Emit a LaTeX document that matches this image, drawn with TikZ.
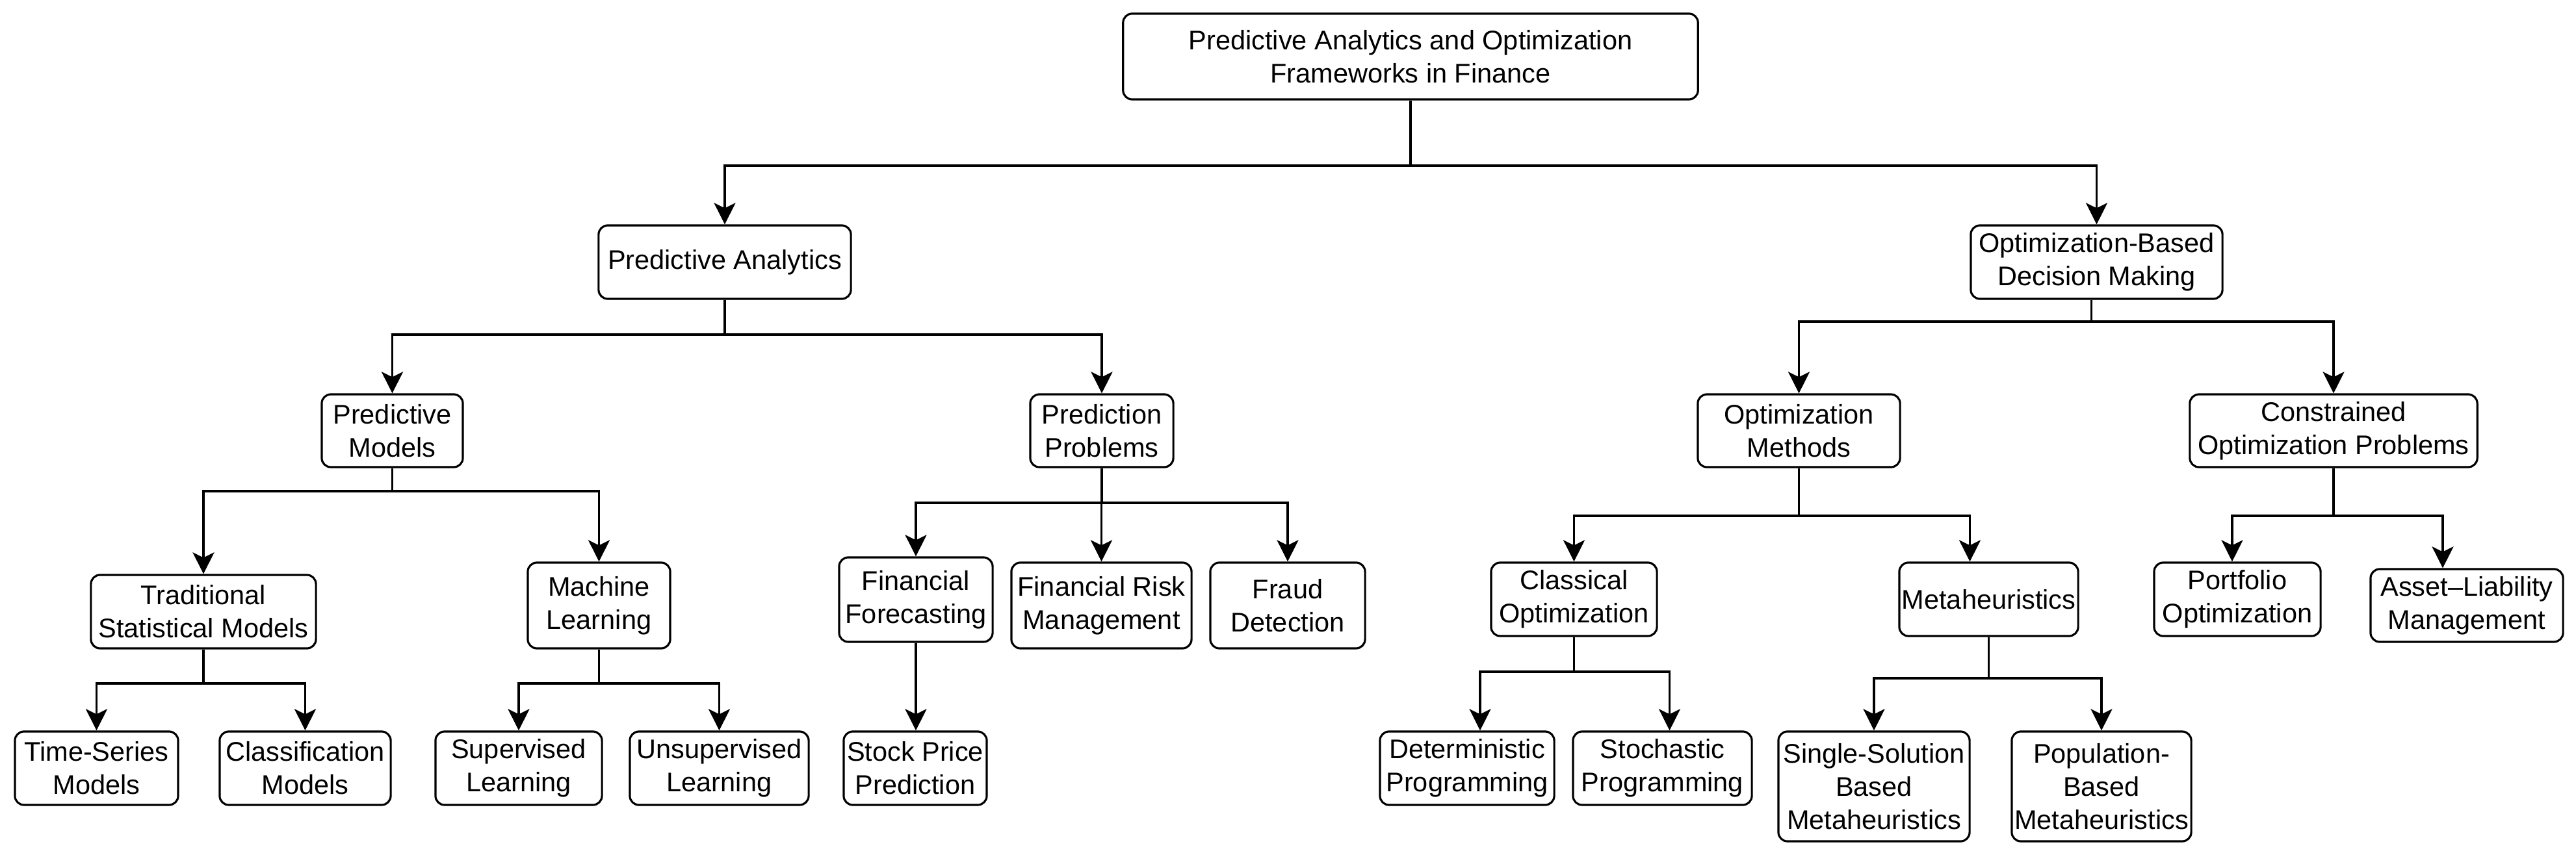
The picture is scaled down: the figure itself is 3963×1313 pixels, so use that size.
\documentclass[tikz,border=0pt]{standalone}
\usepackage{fontspec}
\setmainfont{Liberation Sans}
\usetikzlibrary{arrows.meta}
\newcommand\tredge[3]{\draw[arr] (#1) -- (#1 |- 0,#2) -| (#3);}
\begin{document}
\begin{tikzpicture}[x=0.01cm,y=-0.01cm,
  box/.style={draw, line width=0.9pt, rounded corners=0.14cm, align=center, inner sep=0pt,
    font=\fontsize{11.8pt}{14.5pt}\selectfont},
  arr/.style={line width=0.9pt, -{Stealth[length=0.33cm,width=0.33cm,inset=0.08cm]}}]
\useasboundingbox (0,0) rectangle (3963,1313);
% level 0
\node[box, minimum width=8.84cm, minimum height=1.32cm] (root) at (2170,87) {Predictive Analytics and Optimization\\Frameworks in Finance};
% level 1
\node[box, minimum width=3.88cm, minimum height=1.13cm] (pa) at (1115,403.5) {Predictive Analytics};
\node[box, minimum width=3.87cm, minimum height=1.13cm] (odm) at (3225.5,403.5) {Optimization-Based\\Decision Making};
% level 2
\node[box, minimum width=2.17cm, minimum height=1.12cm] (pm) at (603.5,663) {Predictive\\Models};
\node[box, minimum width=2.20cm, minimum height=1.12cm] (pp) at (1695,663) {Prediction\\Problems};
\node[box, minimum width=3.11cm, minimum height=1.12cm] (om) at (2767.5,663) {Optimization\\Methods};
\node[box, minimum width=4.42cm, minimum height=1.12cm] (cop) at (3590,663) {Constrained\\Optimization Problems};
% level 3
\node[box, minimum width=3.46cm, minimum height=1.13cm] (tsm) at (313,941.5) {Traditional\\Statistical Models};
\node[box, minimum width=2.19cm, minimum height=1.32cm] (ml) at (921.5,932) {Machine\\Learning};
\node[box, minimum width=2.36cm, minimum height=1.30cm] (ff) at (1409,923) {Financial\\Forecasting};
\node[box, minimum width=2.77cm, minimum height=1.32cm] (frm) at (1694.5,932) {Financial Risk\\Management};
\node[box, minimum width=2.38cm, minimum height=1.32cm] (fd) at (1981,932) {Fraud\\Detection};
\node[box, minimum width=2.55cm, minimum height=1.13cm] (co) at (2421.5,922.5) {Classical\\Optimization};
\node[box, minimum width=2.75cm, minimum height=1.13cm] (meta) at (3059.5,922.5) {Metaheuristics};
\node[box, minimum width=2.56cm, minimum height=1.13cm] (po) at (3442,922.5) {Portfolio\\Optimization};
\node[box, minimum width=2.96cm, minimum height=1.12cm] (alm) at (3795,932) {Asset–Liability\\Management};
% level 4
\node[box, minimum width=2.51cm, minimum height=1.13cm] (ts) at (148.5,1182.5) {Time-Series\\Models};
\node[box, minimum width=2.63cm, minimum height=1.13cm] (cm) at (469.5,1182.5) {Classification\\Models};
\node[box, minimum width=2.56cm, minimum height=1.13cm] (sl) at (798,1182.5) {Supervised\\Learning};
\node[box, minimum width=2.75cm, minimum height=1.13cm] (ul) at (1106.5,1182.5) {Unsupervised\\Learning};
\node[box, minimum width=2.20cm, minimum height=1.13cm] (spp) at (1408,1182.5) {Stock Price\\Prediction};
\node[box, minimum width=2.68cm, minimum height=1.13cm] (dp) at (2257,1182.5) {Deterministic\\Programming};
\node[box, minimum width=2.75cm, minimum height=1.13cm] (sp) at (2557.5,1182.5) {Stochastic\\Programming};
\node[box, minimum width=2.94cm, minimum height=1.69cm] (ssbm) at (2883,1210.5) {Single-Solution\\Based\\Metaheuristics};
\node[box, minimum width=2.76cm, minimum height=1.69cm] (pbm) at (3233,1210.5) {Population-\\Based\\Metaheuristics};
% shifted anchors
\coordinate (odmS) at ([xshift=-0.08cm]odm.south);
\coordinate (metaN) at ([xshift=-0.29cm]meta.north);
\coordinate (poN) at ([xshift=-0.08cm]po.north);
\coordinate (almN) at ([xshift=-0.37cm]alm.north);
\coordinate (dpN) at ([xshift=0.20cm]dp.north);
\coordinate (spN) at ([xshift=0.11cm]sp.north);
% connectors
\tredge{root.south}{255}{pa.north}
\tredge{root.south}{255}{odm.north}
\tredge{pa.south}{515}{pm.north}
\tredge{pa.south}{515}{pp.north}
\tredge{odmS}{495}{om.north}
\tredge{odmS}{495}{cop.north}
\tredge{pm.south}{756}{tsm.north}
\tredge{pm.south}{756}{ml.north}
\tredge{pp.south}{774}{ff.north}
\tredge{pp.south}{774}{frm.north}
\tredge{pp.south}{774}{fd.north}
\tredge{om.south}{794}{co.north}
\tredge{om.south}{794}{metaN}
\tredge{cop.south}{794}{poN}
\tredge{cop.south}{794}{almN}
\tredge{tsm.south}{1052}{ts.north}
\tredge{tsm.south}{1052}{cm.north}
\tredge{ml.south}{1052}{sl.north}
\tredge{ml.south}{1052}{ul.north}
\draw[arr] (ff.south) -- (spp.north -| ff.south);
\tredge{co.south}{1034}{dpN}
\tredge{co.south}{1034}{spN}
\tredge{meta.south}{1044}{ssbm.north}
\tredge{meta.south}{1044}{pbm.north}
\end{tikzpicture}
\end{document}
